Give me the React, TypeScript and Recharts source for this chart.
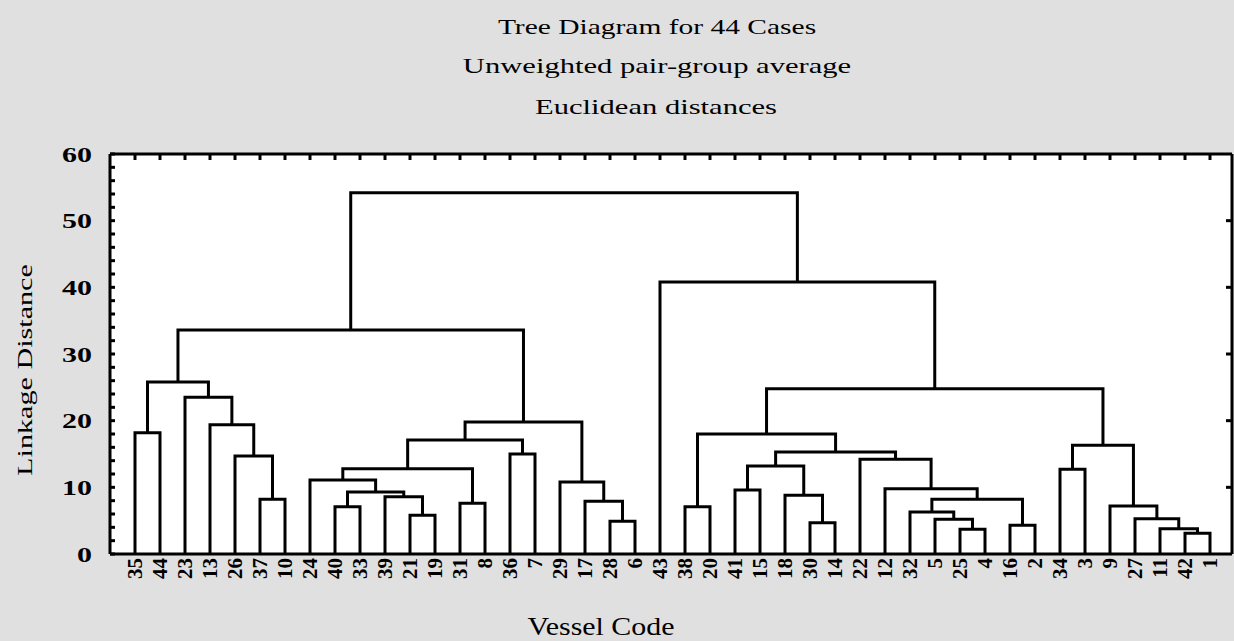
import React from 'react';
import { LineChart, Line, XAxis, YAxis } from 'recharts';

// vessel codes in leaf order, left to right
const vesselCodes = [
  '35', '44', '23', '13', '26', '37', '10', '24', '40', '33', '39', '21', '19', '31', '8',
  '36', '7', '29', '17', '28', '6', '43', '38', '20', '41', '15', '18', '30', '14', '22',
  '12', '32', '5', '25', '4', '16', '2', '34', '3', '9', '27', '11', '42', '1',
];

// each join: left node, right node (0-43 = leaf position, 44+ = earlier join), linkage distance
const joinLeft = [0, 5, 4, 3, 2, 44, 8, 11, 10, 50, 7, 13, 54, 15, 56, 19, 18, 17, 58, 49, 22, 24, 27, 26, 65, 33, 32, 31, 35, 71, 30, 29, 68, 64, 37, 42, 41, 40, 39, 78, 77, 21, 63];
const joinRight = [1, 6, 45, 46, 47, 48, 9, 12, 51, 52, 53, 14, 55, 16, 57, 20, 59, 60, 61, 62, 23, 25, 28, 66, 67, 34, 69, 70, 36, 72, 73, 74, 75, 76, 38, 43, 79, 80, 81, 82, 83, 84, 85];
const linkDistance = [
  18.2, 8.2, 14.7, 19.4, 23.5, 25.8, 7.1, 5.8, 8.6, 9.3, 11.1, 7.6, 12.8, 15.0, 17.1, 4.9,
  7.9, 10.8, 19.8, 33.6, 7.1, 9.6, 4.7, 8.8, 13.2, 3.7, 5.2, 6.3, 4.3, 8.2, 9.8, 14.2, 15.3,
  18.0, 12.7, 3.1, 3.8, 5.3, 7.2, 16.3, 24.8, 40.8, 54.2,
];

const distanceTicks = [0, 10, 20, 30, 40, 50, 60];
const minorTicks = Array.from({ length: 31 }, (_, i) => i * 2);
const leafTicks = vesselCodes.map((_, i) => i);

// build the bracket for every join from the leaf positions
const nodeX: number[] = vesselCodes.map((_, i) => i);
const nodeY: number[] = vesselCodes.map(() => 0);
const links = linkDistance.map((h, k) => {
  const a = joinLeft[k];
  const b = joinRight[k];
  const pts = [
    { x: nodeX[a], y: nodeY[a] },
    { x: nodeX[a], y: h },
    { x: nodeX[b], y: h },
    { x: nodeX[b], y: nodeY[b] },
  ];
  nodeX.push((nodeX[a] + nodeX[b]) / 2);
  nodeY.push(h);
  return pts;
});

// all axes share one domain; spread the brackets over them so every axis has data
const last = links.length - 1;
const xIdFor = (k: number) => (k === last ? 't' : 'b');
const yIdFor = (k: number) => (k === last ? 'r' : k === last - 1 ? 'lm' : 'l');

const serif = '"Liberation Serif", "Times New Roman", serif';
const black = { stroke: '#000', strokeWidth: 3 };
const noLabel = () => <g />;

const LeafTick = ({ x, y, payload }: any) => (
  <text
    transform={`translate(${x},${y + 4}) rotate(-90)`}
    textAnchor="end"
    dy="0.35em"
    fontSize={21}
    fontWeight="bold"
    fontFamily={serif}
    fill="#000"
  >
    {vesselCodes[payload.value]}
  </text>
);

const DistTick = ({ x, y, payload }: any) => (
  <text
    transform={`translate(${x},${y}) scale(1.36,1)`}
    textAnchor="end"
    dy="0.35em"
    fontSize={22}
    fontWeight="bold"
    fontFamily={serif}
    fill="#000"
  >
    {payload.value}
  </text>
);

const overlay = (left: number, top: number, size: number, tf: string): React.CSSProperties => ({
  position: 'absolute',
  left,
  top,
  fontFamily: serif,
  fontSize: size,
  color: '#000',
  whiteSpace: 'nowrap',
  lineHeight: 1,
  transform: `translate(-50%, -50%) ${tf}`,
});

export default function App() {
  return (
    <div style={{ position: 'absolute', left: 0, top: 0, width: 1234, height: 641, background: '#e0e0e0', overflow: 'hidden' }}>
      <div style={{ position: 'absolute', left: 110, top: 154, width: 1122, height: 400, background: '#fff' }} />
      <div style={overlay(657, 27, 22, 'scaleX(1.34)')}>Tree Diagram for 44 Cases</div>
      <div style={overlay(657, 66, 22, 'scaleX(1.39)')}>Unweighted pair-group average</div>
      <div style={overlay(656, 107, 22, 'scaleX(1.39)')}>Euclidean distances</div>
      <div style={overlay(25, 370, 22, 'rotate(-90deg) scaleX(1.37)')}>Linkage Distance</div>
      <div style={overlay(601, 627, 26, 'scaleX(1.15)')}>Vessel Code</div>
      <div style={{ position: 'absolute', left: 0, top: 0 }}>
        <LineChart width={1234} height={641} margin={{ top: 154, right: 2, bottom: 57, left: 50 }}>
          <XAxis
            xAxisId="b"
            type="number"
            dataKey="x"
            domain={[-1, 43.88]}
            ticks={leafTicks}
            interval={0}
            tickLine={false}
            tickSize={0}
            tickMargin={0}
            height={30}
            axisLine={black}
            tick={<LeafTick />}
          />
          <XAxis
            xAxisId="t"
            orientation="top"
            type="number"
            dataKey="x"
            domain={[-1, 43.88]}
            ticks={leafTicks}
            interval={0}
            mirror
            tick={noLabel}
            tickSize={6}
            tickLine={black}
            axisLine={black}
          />
          <YAxis
            yAxisId="l"
            type="number"
            domain={[0, 60]}
            ticks={distanceTicks}
            interval={0}
            width={60}
            tickLine={false}
            tickSize={0}
            tickMargin={18}
            axisLine={black}
            tick={<DistTick />}
          />
          <YAxis
            yAxisId="lm"
            type="number"
            domain={[0, 60]}
            ticks={minorTicks}
            interval={0}
            mirror
            tick={noLabel}
            tickSize={5}
            axisLine={false}
            tickLine={black}
          />
          <YAxis
            yAxisId="r"
            orientation="right"
            type="number"
            domain={[0, 60]}
            ticks={[10, 20, 30, 40, 50]}
            interval={0}
            mirror
            tick={noLabel}
            tickSize={6}
            tickLine={black}
            axisLine={black}
          />
          {links.map((pts, k) => (
            <Line
              key={k}
              xAxisId={xIdFor(k)}
              yAxisId={yIdFor(k)}
              data={pts}
              dataKey="y"
              type="linear"
              stroke="#000"
              strokeWidth={3}
              dot={false}
              activeDot={false}
              isAnimationActive={false}
            />
          ))}
        </LineChart>
      </div>
    </div>
  );
}
